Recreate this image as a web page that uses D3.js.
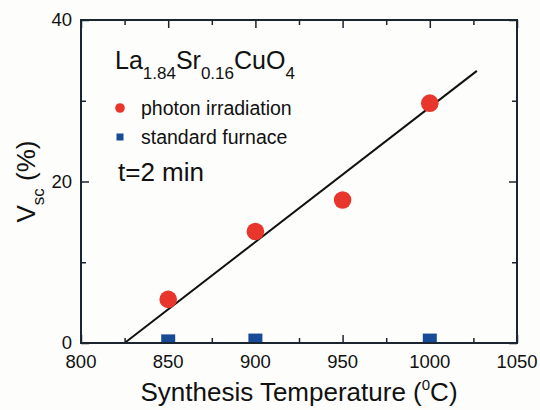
<!DOCTYPE html>
<html>
<head>
<meta charset="utf-8">
<script src="https://cdn.jsdelivr.net/npm/d3@7"></script>
<style>
  body { margin: 0; background: #fdfdfb; }
  svg { font-family: "Liberation Sans", Arial, sans-serif; }
</style>
</head>
<body>
<svg id="chart" width="540" height="410"></svg>
<script>
  const temps = [850, 900, 950, 1000];
  const photonVals = [5.4, 13.8, 17.7, 29.7];
  const furnaceTemps = [850, 900, 1000];
  const furnaceVals = [0.2, 0.3, 0.3];
  const fitLine = [[825, 0], [1027, 33.7]];
  const xMajor = [800, 850, 900, 950, 1000, 1050];
  const xMinor = [825, 875, 925, 975, 1025];
  const yMajor = [0, 20, 40];
  const yMinor = [10, 30];

  const margin = {left: 81, right: 23, top: 20, bottom: 67};
  const width = 540, height = 410;
  const svg = d3.select('#chart');

  const x = d3.scaleLinear().domain([800, 1050]).range([margin.left, width - margin.right]);
  const y = d3.scaleLinear().domain([0, 40]).range([height - margin.bottom, margin.top]);

  const ink = '#1b2530';

  svg.append('defs').append('clipPath').attr('id', 'plot')
     .append('rect')
     .attr('x', x(800)).attr('y', y(40))
     .attr('width', x(1050) - x(800)).attr('height', y(0) - y(40));

  // inward ticks on all four sides
  function ticks(axis, vals, size, tr) {
    const g = svg.append('g').attr('transform', tr)
                 .call(axis.tickValues(vals).tickSize(size).tickFormat(''));
    g.select('.domain').remove();
    g.selectAll('line').attr('stroke', ink).attr('stroke-width', 1.5);
  }
  ticks(d3.axisBottom(x), xMajor, -8, `translate(0,${y(0)})`);
  ticks(d3.axisBottom(x), xMinor, -5, `translate(0,${y(0)})`);
  ticks(d3.axisTop(x), xMajor, -8, `translate(0,${y(40)})`);
  ticks(d3.axisTop(x), xMinor, -5, `translate(0,${y(40)})`);
  ticks(d3.axisLeft(y), yMajor, -8, `translate(${x(800)},0)`);
  ticks(d3.axisLeft(y), yMinor, -5, `translate(${x(800)},0)`);
  ticks(d3.axisRight(y), yMajor, -8, `translate(${x(1050)},0)`);
  ticks(d3.axisRight(y), yMinor, -5, `translate(${x(1050)},0)`);

  // tick labels
  svg.append('g').selectAll('text').data(xMajor).join('text')
     .attr('x', d => x(d)).attr('y', y(0) + 25)
     .attr('text-anchor', 'middle').attr('font-size', 18.5).attr('fill', '#111')
     .text(d => d);
  svg.append('g').selectAll('text').data(yMajor).join('text')
     .attr('x', x(800) - 9).attr('y', d => y(d) + 6)
     .attr('text-anchor', 'end').attr('font-size', 18.5).attr('fill', '#111')
     .text(d => d);

  // fit line
  svg.append('path')
     .datum(fitLine)
     .attr('d', d3.line().x(d => x(d[0])).y(d => y(d[1])))
     .attr('fill', 'none').attr('stroke', '#111').attr('stroke-width', 2);

  // data
  svg.append('g').attr('clip-path', 'url(#plot)')
     .selectAll('rect').data(furnaceTemps).join('rect')
     .attr('x', d => x(d) - 7).attr('y', (d, i) => y(furnaceVals[i]) - 7)
     .attr('width', 14).attr('height', 14).attr('fill', '#174a97');

  svg.append('g').selectAll('circle').data(temps).join('circle')
     .attr('cx', d => x(d)).attr('cy', (d, i) => y(photonVals[i]))
     .attr('r', 8.8).attr('fill', '#e8362c');

  // frame
  svg.append('rect')
     .attr('x', x(800)).attr('y', y(40))
     .attr('width', x(1050) - x(800)).attr('height', y(0) - y(40))
     .attr('fill', 'none').attr('stroke', ink).attr('stroke-width', 2);

  // compound label
  const comp = svg.append('text').attr('x', 115).attr('y', 69)
                  .attr('font-size', 25).attr('fill', '#111');
  comp.append('tspan').text('La');
  comp.append('tspan').attr('font-size', 17).attr('dy', 10).text('1.84');
  comp.append('tspan').attr('dy', -10).text('Sr');
  comp.append('tspan').attr('font-size', 17).attr('dy', 10).text('0.16');
  comp.append('tspan').attr('dy', -10).text('CuO');
  comp.append('tspan').attr('font-size', 17).attr('dy', 10).text('4');

  // legend
  svg.append('circle').attr('cx', 120).attr('cy', 108).attr('r', 4.8).attr('fill', '#e8362c');
  svg.append('text').attr('x', 141).attr('y', 115).attr('font-size', 19.5).attr('fill', '#111')
     .text('photon irradiation');
  svg.append('rect').attr('x', 116.5).attr('y', 133.5).attr('width', 7).attr('height', 7).attr('fill', '#174a97');
  svg.append('text').attr('x', 141).attr('y', 144).attr('font-size', 19.5).attr('fill', '#111')
     .text('standard furnace');

  svg.append('text').attr('x', 118).attr('y', 181).attr('font-size', 26).attr('fill', '#111')
     .text('t=2 min');

  // axis titles
  const xt = svg.append('text').attr('x', (x(800) + x(1050)) / 2).attr('y', 401)
                .attr('text-anchor', 'middle').attr('font-size', 26).attr('fill', '#111');
  xt.append('tspan').text('Synthesis Temperature (');
  xt.append('tspan').attr('font-size', 15).attr('dy', -11).text('0');
  xt.append('tspan').attr('dy', 11).text('C)');

  const yt = svg.append('text')
                .attr('transform', `translate(35,${(y(0) + y(40)) / 2}) rotate(-90)`)
                .attr('text-anchor', 'middle').attr('font-size', 26).attr('fill', '#111');
  yt.append('tspan').text('V');
  yt.append('tspan').attr('font-size', 17).attr('dy', 9).text('sc');
  yt.append('tspan').attr('dy', -9).text(' (%)');
</script>
</body>
</html>
